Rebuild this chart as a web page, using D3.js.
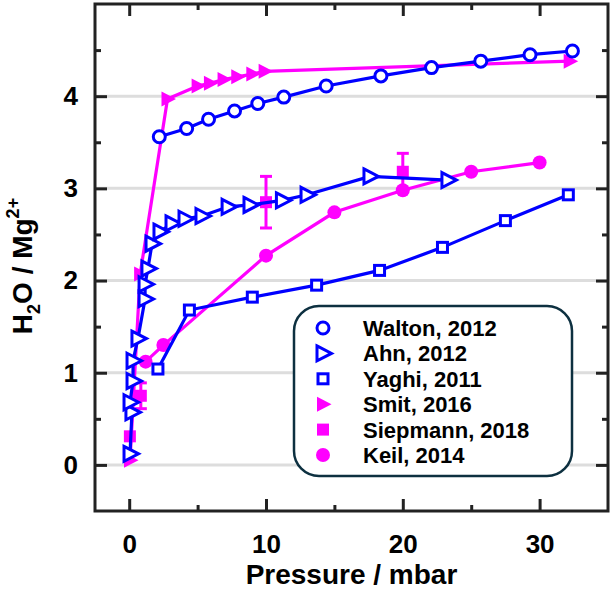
<!DOCTYPE html>
<html>
<head>
<meta charset="utf-8">
<script src="https://cdn.jsdelivr.net/npm/d3@7"></script>
<style>
body { margin: 0; background: #fff; }
text { font-family: "Liberation Sans", Arial, sans-serif; font-weight: bold; }
</style>
</head>
<body>
<script>
// data: pressure (mbar) and H2O per Mg2+
var waltonP = [2.2, 4.2, 5.8, 7.7, 9.4, 11.3, 14.4, 18.4, 22.1, 25.7, 29.3, 32.4];
var waltonN = [3.56, 3.65, 3.75, 3.84, 3.92, 3.99, 4.11, 4.22, 4.31, 4.38, 4.45, 4.49];

var ahnP = [0.06, 0.2, 0.06, 0.28, 0.28, 0.64, 1.16, 1.16, 1.37, 1.67, 2.25, 3.13, 4.08, 5.32, 7.23, 8.83, 11.2, 13.0, 17.6, 23.3];
var ahnN = [0.12, 0.57, 0.68, 0.91, 1.13, 1.37, 1.8, 1.96, 2.13, 2.4, 2.53, 2.62, 2.67, 2.7, 2.8, 2.82, 2.87, 2.93, 3.13, 3.09];

var yaghiP = [2.1, 4.4, 9.0, 13.7, 18.3, 22.9, 27.5, 32.1];
var yaghiN = [1.04, 1.68, 1.82, 1.95, 2.11, 2.36, 2.65, 2.93];

var smitP = [0.06, 0.8, 2.8, 5.0, 5.9, 6.9, 7.9, 9.0, 9.9, 32.2];
var smitN = [0.05, 2.07, 3.97, 4.11, 4.14, 4.18, 4.21, 4.24, 4.27, 4.38];

var siepP = [0.05, 0.85, 10, 20];
var siepN = [0.31, 0.75, 2.85, 3.18];
var siepErr = [0, 0.14, 0.28, 0.2];

var keilP = [1.2, 2.5, 10, 15, 20, 25, 30];
var keilN = [1.12, 1.3, 2.27, 2.74, 2.98, 3.18, 3.28];

var xTicks = [0, 10, 20, 30];
var xMinor = [5, 15, 25];
var yTicks = [0, 1, 2, 3, 4];
var yMinor = [0.5, 1.5, 2.5, 3.5, 4.5];

var legendNames = ["Walton, 2012", "Ahn, 2012", "Yaghi, 2011", "Smit, 2016", "Siepmann, 2018", "Keil, 2014"];

var blue = "#0000ff", pink = "#ff00ff";

var width = 614, height = 592;
var pL = 95, pR = 608, pT = 4, pB = 511;

var x = d3.scaleLinear().domain([-2.5, 35]).range([pL, pR]);
var y = d3.scaleLinear().domain([-0.5, 5]).range([pB, pT]);

var svg = d3.select("body").append("svg")
	.attr("width", width)
	.attr("height", height);

// grid
svg.append("g").selectAll("line")
	.data(yTicks)
	.enter().append("line")
	.attr("x1", pL).attr("x2", pR)
	.attr("y1", function(d) { return y(d); })
	.attr("y2", function(d) { return y(d); })
	.attr("stroke", "#dddddd")
	.attr("stroke-width", 3);

function zip(a, b) { return a.map(function(v, i) { return [v, b[i]]; }); }

var line = d3.line()
	.x(function(d) { return x(d[0]); })
	.y(function(d) { return y(d[1]); });

var tri = "M-6,-7.5L8.5,0L-6,7.5Z";

function series(pts, color, shape, filled, drawLine) {
	var g = svg.append("g");
	if (drawLine) {
		g.append("path")
			.attr("d", line(pts))
			.attr("fill", "none")
			.attr("stroke", color)
			.attr("stroke-width", 3.2);
	}
	var m = g.selectAll(".m").data(pts).enter().append("g")
		.attr("transform", function(d) { return "translate(" + x(d[0]) + "," + y(d[1]) + ")"; });
	marker(m, color, shape, filled);
}

function marker(sel, color, shape, filled) {
	var el;
	if (shape === "circle") {
		el = sel.append("circle").attr("r", filled ? 7 : 6);
	} else if (shape === "square") {
		var s = filled ? 12 : 10;
		el = sel.append("rect").attr("x", -s / 2).attr("y", -s / 2).attr("width", s).attr("height", s);
	} else {
		el = sel.append("path").attr("d", tri);
	}
	if (filled) el.attr("fill", color).attr("stroke", "none");
	else el.attr("fill", "#fff").attr("stroke", color).attr("stroke-width", 3);
}

series(zip(smitP, smitN), pink, "tri", true, true);
series(zip(keilP, keilN), pink, "circle", true, true);

// Siepmann with error bars
var sg = svg.append("g");
var sd = siepP.map(function(p, i) { return {p: p, n: siepN[i], e: siepErr[i]}; });
var eb = sg.selectAll(".eb").data(sd.filter(function(d) { return d.e > 0; })).enter().append("g")
	.attr("stroke", pink).attr("stroke-width", 3);
eb.append("line")
	.attr("x1", function(d) { return x(d.p); }).attr("x2", function(d) { return x(d.p); })
	.attr("y1", function(d) { return y(d.n - d.e); }).attr("y2", function(d) { return y(d.n + d.e); });
eb.append("line")
	.attr("x1", function(d) { return x(d.p) - 6; }).attr("x2", function(d) { return x(d.p) + 6; })
	.attr("y1", function(d) { return y(d.n - d.e); }).attr("y2", function(d) { return y(d.n - d.e); });
eb.append("line")
	.attr("x1", function(d) { return x(d.p) - 6; }).attr("x2", function(d) { return x(d.p) + 6; })
	.attr("y1", function(d) { return y(d.n + d.e); }).attr("y2", function(d) { return y(d.n + d.e); });
series(zip(siepP, siepN), pink, "square", true, false);

series(zip(yaghiP, yaghiN), blue, "square", false, true);
series(zip(ahnP, ahnN), blue, "tri", false, true);
series(zip(waltonP, waltonN), blue, "circle", false, true);

// axes, ticks inward
function styleAxis(g) {
	g.select(".domain").remove();
	g.selectAll(".tick line").attr("stroke", "#222").attr("stroke-width", 3);
	g.selectAll("text").attr("fill", "#000").style("font-size", "26px").style("font-family", "Liberation Sans, Arial, sans-serif").style("font-weight", "bold");
}

svg.append("g").attr("transform", "translate(0," + pB + ")")
	.call(d3.axisBottom(x).tickValues(xTicks).tickSize(-12).tickPadding(24).tickFormat(d3.format("d")))
	.call(styleAxis);
svg.append("g").attr("transform", "translate(0," + pB + ")")
	.call(d3.axisBottom(x).tickValues(xMinor).tickSize(-6).tickFormat(""))
	.call(styleAxis);
svg.append("g").attr("transform", "translate(0," + pT + ")")
	.call(d3.axisTop(x).tickValues(xTicks).tickSize(-12).tickFormat(""))
	.call(styleAxis);
svg.append("g").attr("transform", "translate(0," + pT + ")")
	.call(d3.axisTop(x).tickValues(xMinor).tickSize(-6).tickFormat(""))
	.call(styleAxis);

svg.append("g").attr("transform", "translate(" + pL + ",0)")
	.call(d3.axisLeft(y).tickValues(yTicks).tickSize(-12).tickPadding(17).tickFormat(d3.format("d")))
	.call(styleAxis);
svg.append("g").attr("transform", "translate(" + pL + ",0)")
	.call(d3.axisLeft(y).tickValues(yMinor).tickSize(-6).tickFormat(""))
	.call(styleAxis);
svg.append("g").attr("transform", "translate(" + pR + ",0)")
	.call(d3.axisRight(y).tickValues(yTicks).tickSize(-12).tickFormat(""))
	.call(styleAxis);
svg.append("g").attr("transform", "translate(" + pR + ",0)")
	.call(d3.axisRight(y).tickValues(yMinor).tickSize(-6).tickFormat(""))
	.call(styleAxis);

// frame
svg.append("rect")
	.attr("x", pL).attr("y", pT)
	.attr("width", pR - pL).attr("height", pB - pT)
	.attr("fill", "none").attr("stroke", "#222").attr("stroke-width", 3);

// axis labels
svg.append("text")
	.attr("x", (pL + pR) / 2).attr("y", 584)
	.attr("text-anchor", "middle")
	.style("font-size", "28px")
	.text("Pressure / mbar");

var yl = svg.append("text")
	.attr("transform", "translate(32,266) rotate(-90)")
	.attr("text-anchor", "middle")
	.style("font-size", "28px");
yl.append("tspan").text("H");
yl.append("tspan").attr("dy", 8).style("font-size", "18px").text("2");
yl.append("tspan").attr("dy", -8).text("O / Mg");
yl.append("tspan").attr("dy", -13).style("font-size", "18px").text("2+");

// legend
var lg = svg.append("g");
lg.append("rect")
	.attr("x", 294).attr("y", 306)
	.attr("width", 278).attr("height", 170)
	.attr("rx", 25)
	.attr("fill", "#fff").attr("stroke", "#0d3040").attr("stroke-width", 2.5);

var shapes = [["circle", blue, false], ["tri", blue, false], ["square", blue, false], ["tri", pink, true], ["square", pink, true], ["circle", pink, true]];
var rows = lg.selectAll(".row").data(legendNames).enter().append("g")
	.attr("transform", function(d, i) { return "translate(0," + (328 + i * 25.4) + ")"; });
rows.each(function(d, i) {
	var r = d3.select(this);
	var m = r.append("g").attr("transform", "translate(323,0)");
	marker(m, shapes[i][1], shapes[i][0], shapes[i][2]);
	r.append("text")
		.attr("x", 363).attr("y", 0).attr("dy", "0.36em")
		.style("font-size", "22px")
		.text(d);
});
</script>
</body>
</html>
